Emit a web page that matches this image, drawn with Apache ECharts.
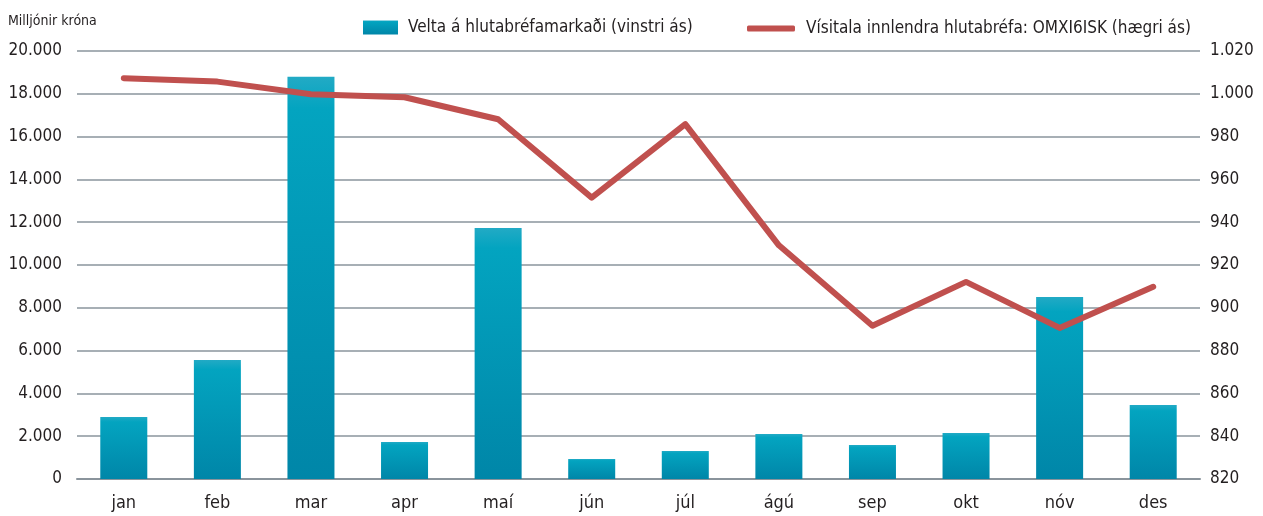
<!DOCTYPE html>
<html>
<head>
<meta charset="utf-8">
<script src="https://cdn.jsdelivr.net/npm/echarts@6/dist/echarts.min.js"></script>
<style>
  html, body { margin: 0; padding: 0; background: #fff; }
  #chart { width: 1263px; height: 516px; }
</style>
</head>
<body>
<div id="chart"></div>
<script>
const months = ['jan', 'feb', 'mar', 'apr', 'maí', 'jún', 'júl', 'ágú', 'sep', 'okt', 'nóv', 'des'];
const turnover = [2900, 5560, 18800, 1730, 11730, 930, 1310, 2100, 1590, 2150, 8500, 3460];
const indexValues = [1007.3, 1005.7, 999.8, 998.4, 988.1, 951.5, 985.8, 929.2, 891.6, 912.1, 890.6, 909.8];
const barName = 'Velta á hlutabréfamarkaði (vinstri ás)';
const lineName = 'Vísitala innlendra hlutabréfa: OMXI6ISK (hægri ás)';

const font = '"DejaVu Sans Condensed", "Liberation Sans Narrow", sans-serif';
const fmt = v => String(v).replace(/\B(?=(\d{3})+(?!\d))/g, '.');

const chart = echarts.init(document.getElementById('chart'));

chart.setOption({
    textStyle: { fontFamily: font, color: '#231f20' },
    grid: { left: 77, right: 63, top: 51, bottom: 37 },
    legend: [
        {
            data: [{ name: barName, icon: 'rect' }],
            left: 363, top: 19, padding: 0,
            itemWidth: 35, itemHeight: 14,
            textStyle: { fontFamily: font, fontSize: 17, color: '#231f20', padding: [0, 0, 0, 5] }
        },
        {
            data: [{ name: lineName, icon: 'roundRect' }],
            left: 747, top: 20, padding: 0,
            itemWidth: 48, itemHeight: 6,
            textStyle: { fontFamily: font, fontSize: 17, color: '#231f20', padding: [0, 0, 0, 6] }
        }
    ],
    xAxis: {
        type: 'category',
        data: months,
        axisLine: { lineStyle: { color: '#8a949c', width: 2 } },
        axisTick: { inside: true, length: 12, lineStyle: { color: '#8a949c', width: 2 } },
        axisLabel: { fontSize: 18, color: '#231f20', margin: 15 }
    },
    yAxis: [
        {
            type: 'value',
            name: 'Milljónir króna',
            nameLocation: 'end',
            nameGap: 23,
            nameTextStyle: { fontSize: 14, color: '#231f20', align: 'left', padding: [0, 0, 0, -69] },
            min: 0, max: 20000, interval: 2000,
            axisLine: { show: false },
            axisTick: { show: false },
            axisLabel: { fontSize: 17, color: '#231f20', margin: 15, formatter: fmt },
            splitLine: { lineStyle: { color: '#8a949c', width: 1.5 } }
        },
        {
            type: 'value',
            min: 820, max: 1020, interval: 20,
            axisLine: { show: false },
            axisTick: { show: false },
            axisLabel: { fontSize: 17, color: '#231f20', margin: 10, formatter: fmt },
            splitLine: { show: false }
        }
    ],
    series: [
        {
            name: barName,
            type: 'bar',
            data: turnover,
            barWidth: 47,
            itemStyle: {
                color: new echarts.graphic.LinearGradient(0, 0, 0, 1, [
                    { offset: 0, color: '#22aac5' },
                    { offset: 0.08, color: '#03a4c0' },
                    { offset: 1, color: '#0086a8' }
                ])
            }
        },
        {
            name: lineName,
            type: 'line',
            yAxisIndex: 1,
            data: indexValues,
            symbol: 'none',
            lineStyle: { color: '#c0504e', width: 6, cap: 'round', join: 'round' },
            itemStyle: { color: '#c0504e' }
        }
    ]
});
</script>
</body>
</html>
